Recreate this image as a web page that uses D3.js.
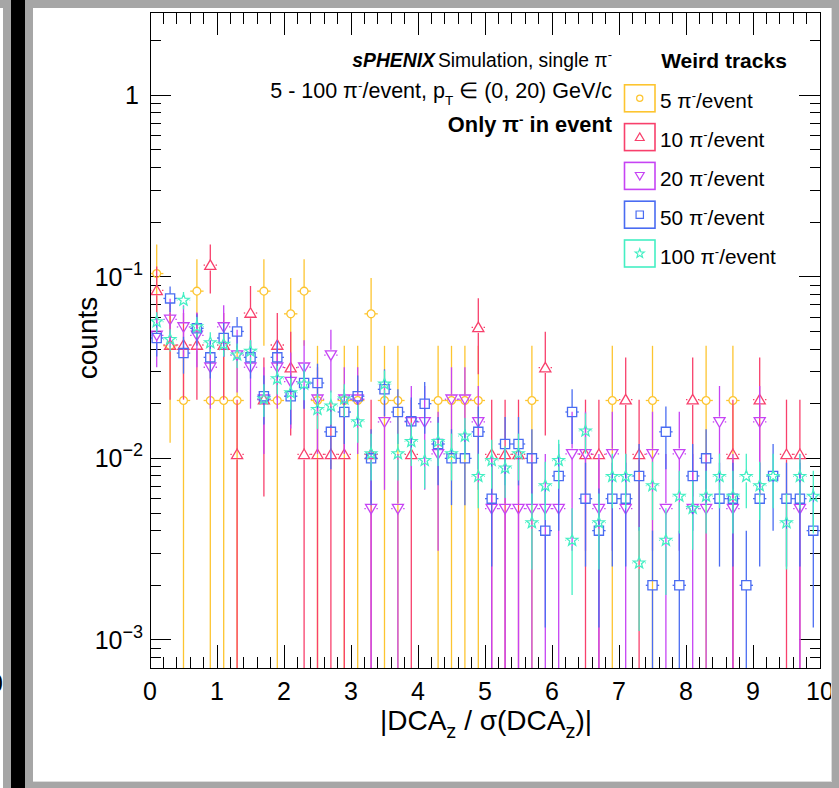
<!DOCTYPE html>
<html><head><meta charset="utf-8">
<script src="https://cdn.jsdelivr.net/npm/d3@7"></script>
<style>
body{margin:0;background:#fff}
svg{display:block;font-family:"Liberation Sans",Arial,Helvetica,sans-serif}
</style>
</head><body>
<svg id="c" width="839" height="788"></svg>
<script>
// ---------------- data (histogram bin contents) ----------------
const binEdgesMin = 0, binEdgesMax = 10, binWidth = 0.2;
const xTickValues = [0,1,2,3,4,5,6,7,8,9,10];
const yTickExponents = [0,-1,-2,-3];
const seriesLabels = ["5","10","20","50","100"];
// entries per histogram (normalisation)
const norm5 = 48, norm10 = 95, norm20 = 189, norm50 = 500, norm100 = 1130;
// raw counts per bin (50 bins of width 0.2)
const counts5 = [5,2,1,4,1,1,1,0,4,1, 3,4,1,0,1,1,3,1,1,0, 0,1,1,1,1,0,0,0,1,0, 0,0,0,0,1,0,0,1,0,0, 0,1,0,1,0,0,0,0,0,0];
const counts10 = [8,4,4,4,11,4,1,6,2,4, 3,1,1,1,1,0,1,0,0,1, 0,0,0,0,5,1,1,1,0,3, 0,0,1,1,0,2,1,0,0,0, 2,0,0,1,0,2,0,1,1,0];
const counts20 = [9,11,10,9,6,10,7,6,4,6, 5,6,4,7,4,4,1,3,1,3, 3,2,4,4,3,1,1,1,1,1, 1,2,2,1,2,1,0,2,1,2, 1,1,3,1,0,3,0,0,1,0];
const counts50 = [23,38,19,26,18,23,25,18,11,18, 11,13,13,7,9,11,5,12,9,8, 10,6,5,5,7,3,6,6,5,2, 4,9,3,2,3,3,4,1,7,1, 4,5,3,3,1,3,4,3,3,2];
const counts100 = [64,51,84,60,49,48,42,44,24,31, 26,29,21,22,24,18,12,29,12,14, 11,14,12,15,9,11,10,12,5,8, 11,4,16,5,9,9,3,8,4,7, 6,7,9,7,9,8,9,5,9,7];

// ---------------- styling ----------------
const colors = ["#fdc530","#f8406c","#c644f4","#4a6cf2","#44efc4"];
const shapes = ["circle","triUp","triDown","square","star"];

const svg = d3.select("#c");
const W = 839, H = 788;
svg.append("rect").attr("width",W).attr("height",H).attr("fill","#fff");

const L = 150, R = 820, T = 12, B = 668;
const x = d3.scaleLinear().domain([binEdgesMin, binEdgesMax]).range([L, R]);
const y = d3.scaleLog().domain([7.01e-4, 2.87]).range([B, T]);

svg.append("defs").append("clipPath").attr("id","plotclip")
  .append("rect").attr("x",L).attr("y",T).attr("width",R-L).attr("height",B-T);

// ---------------- axes: ticks ----------------
const axG = svg.append("g").attr("stroke","#000").attr("stroke-width",1).attr("shape-rendering","crispEdges");
const xMajorLen = 23, xMinorLen = 11.5, yMajorLen = 21, yMinorLen = 10.5;
const xMinor = d3.range(0, 50).map(i => i*binWidth).filter((v,i)=> i%5 !== 0);
xTickValues.forEach(v => {
  axG.append("line").attr("x1",x(v)).attr("x2",x(v)).attr("y1",B).attr("y2",B-xMajorLen);
  axG.append("line").attr("x1",x(v)).attr("x2",x(v)).attr("y1",T).attr("y2",T+xMajorLen);
});
xMinor.forEach(v => {
  axG.append("line").attr("x1",x(v)).attr("x2",x(v)).attr("y1",B).attr("y2",B-xMinorLen);
  axG.append("line").attr("x1",x(v)).attr("x2",x(v)).attr("y1",T).attr("y2",T+xMinorLen);
});
const [ylo, yhi] = y.domain();
for (let e = -4; e <= 0; e++) {
  for (let k = 1; k <= 9; k++) {
    const v = k*Math.pow(10,e);
    if (v < ylo || v > yhi) continue;
    const len = k === 1 ? yMajorLen : yMinorLen;
    axG.append("line").attr("x1",L).attr("x2",L+len).attr("y1",y(v)).attr("y2",y(v));
    axG.append("line").attr("x1",R).attr("x2",R-len).attr("y1",y(v)).attr("y2",y(v));
  }
}

// ---------------- markers ----------------
function markerPath(shape, s) {
  switch(shape){
    case "circle": return d3.symbol().type(d3.symbolCircle).size(Math.PI*s*s)();
    case "square": return `M${-s},${-s}H${s}V${s}H${-s}Z`;
    case "triUp": return `M0,${-s}L${s*1.05},${s*0.8}H${-s*1.05}Z`;
    case "triDown": return `M0,${s}L${s*1.05},${-s*0.8}H${-s*1.05}Z`;
    case "star": {
      let p = [];
      for (let i = 0; i < 10; i++) {
        const r = i%2 ? s*0.42 : s;
        const a = -Math.PI/2 + i*Math.PI/5;
        p.push([r*Math.cos(a), r*Math.sin(a)]);
      }
      return "M" + p.map(q=>q[0].toFixed(2)+","+q[1].toFixed(2)).join("L") + "Z";
    }
  }
}
const markerSize = {circle:3.9, square:4.6, triUp:5.3, triDown:5.3, star:6};

// ---------------- data series ----------------
const allCounts = [counts5, counts10, counts20, counts50, counts100];
const allNorms = [norm5, norm10, norm20, norm50, norm100];
const dataG = svg.append("g").attr("clip-path","url(#plotclip)");
allCounts.forEach((counts, si) => {
  const g = dataG.append("g");
  const col = colors[si], shape = shapes[si], ms = markerSize[shape];
  const N = allNorms[si];
  counts.forEach((n, i) => {
    if (!n) return;
    const v = n/N, err = Math.sqrt(n)/N;
    const c = binEdgesMin + (i+0.5)*binWidth;
    const cx = x(c), cy = y(v);
    const yTop = y(v+err);
    const yBot = (v-err) > ylo ? y(v-err) : B+2;
    const gap = ms;
    const segs = [
      [cx, yTop, cx, cy-gap],
      [cx, cy+gap, cx, yBot],
      [x(c-binWidth/2), cy, cx-gap, cy],
      [cx+gap, cy, x(c+binWidth/2), cy]
    ];
    segs.forEach(sg => {
      if ((sg[0]===sg[2] && sg[3] <= sg[1]) || (sg[1]===sg[3] && sg[2] <= sg[0])) return;
      g.append("line").attr("x1",sg[0]).attr("y1",sg[1]).attr("x2",sg[2]).attr("y2",sg[3])
        .attr("stroke",col).attr("stroke-width",1.3);
    });
    g.append("path").attr("d", markerPath(shape, ms))
      .attr("transform",`translate(${cx},${cy})`)
      .attr("fill","none").attr("stroke",col).attr("stroke-width",1.3);
  });
});

// frame
svg.append("rect").attr("x",L).attr("y",T).attr("width",R-L).attr("height",B-T)
  .attr("fill","none").attr("stroke","#000").attr("stroke-width",1).attr("shape-rendering","crispEdges");

// ---------------- tick labels ----------------
const lab = svg.append("g").attr("fill","#000");
xTickValues.forEach(v => {
  lab.append("text").attr("x",x(v)).attr("y",700).attr("text-anchor","middle")
    .attr("font-size",25).text(v);
});
yTickExponents.forEach(e => {
  const t = lab.append("text").attr("x",143).attr("y",y(Math.pow(10,e))+9)
    .attr("text-anchor","end").attr("font-size",25);
  if (e === 0) { t.attr("x",139).text("1"); }
  else {
    t.append("tspan").text("10");
    t.append("tspan").attr("dy",-11).attr("font-size",18).text("\u2212"+(-e));
  }
});

// axis titles
const xt = lab.append("text").attr("x",486).attr("y",730).attr("text-anchor","middle").attr("font-size",28);
xt.append("tspan").text("|DCA");
xt.append("tspan").attr("dy",8).attr("font-size",20).text("z");
xt.append("tspan").attr("dy",-8).text(" / \u03C3(DCA");
xt.append("tspan").attr("dy",8).attr("font-size",20).text("z");
xt.append("tspan").attr("dy",-8).text(")|");

lab.append("text").attr("transform","translate(97,338) rotate(-90)")
  .attr("text-anchor","middle").attr("font-size",28).text("counts");

// ---------------- header text ----------------
const t1 = lab.append("text").attr("x",612).attr("y",67).attr("text-anchor","end").attr("font-size",19.3);
t1.append("tspan").attr("font-weight","bold").attr("font-style","italic").text("sPHENIX");
t1.append("tspan").attr("dx",3).text("Simulation, single \u03C0");
t1.append("tspan").attr("dy",-8).attr("font-size",13).text("-");

const t2 = lab.append("text").attr("x",612).attr("y",98).attr("text-anchor","end").attr("font-size",21.5);
t2.append("tspan").text("5 - 100 \u03C0");
t2.append("tspan").attr("dy",-8).attr("font-size",13.5).text("-");
t2.append("tspan").attr("dy",8).text("/event, p");
t2.append("tspan").attr("dy",7).attr("font-size",13.5).text("T");
t2.append("tspan").attr("dy",-7).text(" \u2208 (0, 20) GeV/c");

const t3 = lab.append("text").attr("x",612).attr("y",132).attr("text-anchor","end").attr("font-size",21.8).attr("font-weight","bold");
t3.append("tspan").text("Only  \u03C0");
t3.append("tspan").attr("dy",-8).attr("font-size",13.5).text("-");
t3.append("tspan").attr("dy",8).text(" in event");

// ---------------- legend ----------------
lab.append("text").attr("x",724).attr("y",68).attr("text-anchor","middle")
  .attr("font-size",21).attr("font-weight","bold").text("Weird tracks");
seriesLabels.forEach((s, i) => {
  const cy = 98.3 + i*38.8;
  svg.append("rect").attr("x",624.5).attr("y",cy-13.5).attr("width",30.5).attr("height",27)
    .attr("fill","none").attr("stroke",colors[i]).attr("stroke-width",1.6);
  svg.append("path").attr("d", markerPath(shapes[i], markerSize[shapes[i]]*0.8))
    .attr("transform",`translate(639.75,${cy})`).attr("fill","none")
    .attr("stroke",colors[i]).attr("stroke-width",1.2);
  const t = lab.append("text").attr("x",660).attr("y",cy+10).attr("font-size",20.8);
  t.append("tspan").text(s+" \u03C0");
  t.append("tspan").attr("dy",-8).attr("font-size",13).text("-");
  t.append("tspan").attr("dy",8).text("/event");
});

// ---------------- surrounding window frame ----------------
// fragment of neighbouring canvas label (cut by the window edge, as in the reference)
svg.append("text").attr("x",-11).attr("y",692).attr("font-size",25).text("0");
const fr = svg.append("g").attr("shape-rendering","crispEdges");
fr.append("rect").attr("x",3).attr("y",0).attr("width",8).attr("height",H).attr("fill","#a6a6a6");
fr.append("rect").attr("x",0).attr("y",0).attr("width",3).attr("height",8).attr("fill","#a6a6a6");
fr.append("rect").attr("x",11).attr("y",0).attr("width",14).attr("height",H).attr("fill","#000");
fr.append("rect").attr("x",25).attr("y",0).attr("width",8).attr("height",H).attr("fill","#a6a6a6");
fr.append("rect").attr("x",25).attr("y",0).attr("width",W-25).attr("height",8).attr("fill","#a6a6a6");
fr.append("rect").attr("x",832).attr("y",0).attr("width",7).attr("height",H).attr("fill","#a6a6a6");
fr.append("rect").attr("x",831).attr("y",8).attr("width",1).attr("height",774).attr("fill","#dcdcdc");
fr.append("rect").attr("x",25).attr("y",782).attr("width",W-25).attr("height",6).attr("fill","#a6a6a6");
fr.append("rect").attr("x",33).attr("y",781).attr("width",799).attr("height",1).attr("fill","#dcdcdc");
</script>
</body></html>
